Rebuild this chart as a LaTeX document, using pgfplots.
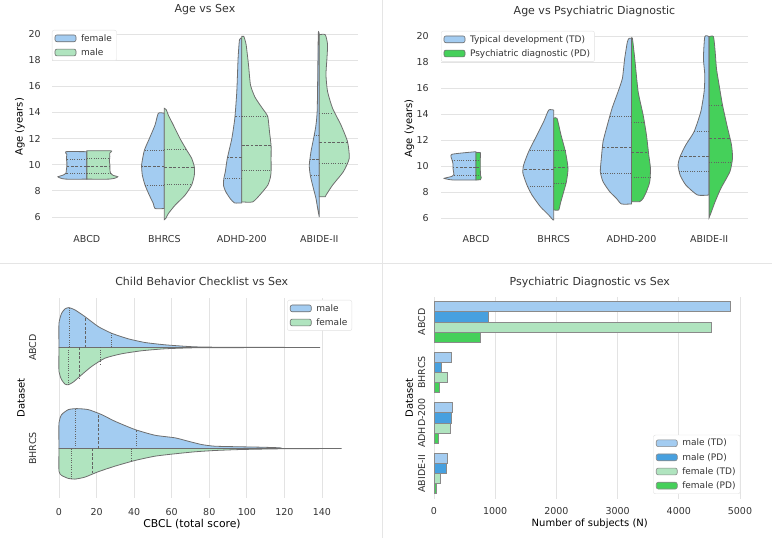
\documentclass[border=0pt]{standalone}
\usepackage{fontspec}
\setmainfont{DejaVu Sans}
\usepackage{pgfplots}
\pgfplotsset{compat=1.18}

\definecolor{tdblue}{HTML}{A3CCF1}
\definecolor{mgreen}{HTML}{B0E4BF}
\definecolor{pdblue}{HTML}{47A0DF}
\definecolor{pdgreen}{HTML}{45D05A}
\definecolor{edge}{HTML}{6E6E6E}
\definecolor{bargray}{HTML}{8A8A8A}
\definecolor{gridc}{HTML}{E3E3E3}
\definecolor{txt}{HTML}{333333}

% half-width scale of the violins (density units per category)
\def\vsc{77.5}
\def\hsc{101.3}

\pgfplotsset{
  base/.style={
    scale only axis, anchor=south west,
    axis line style={draw=none},
    major tick length=0pt,
    tick label style={font=\fontsize{9.5}{11}\selectfont, text=txt},
    label style={font=\fontsize{9.5}{11}\selectfont, text=txt},
    title style={font=\fontsize{11}{13}\selectfont, text=txt},
    grid style={gridc, line width=0.9pt},
    /pgf/number format/assume math mode=true,
    legend style={font=\fontsize{9}{11}\selectfont, text=txt, draw=black!12,
      rounded corners=2pt, fill=white, inner xsep=2.5pt, inner ysep=2pt, row sep=1.8pt},
    legend cell align=left,
    legend image code/.code={\draw[##1, line width=0.6pt] (0pt,-3.4pt) rectangle (21pt,3.4pt); \path[draw=none, fill=none] (0pt,0pt) -- (24pt,0pt);},
  },
  violin/.style={draw=edge, line width=0.8pt, smooth, tension=0.35, forget plot},
  qmed/.style={draw=edge!90!black, line width=0.8pt, dash pattern=on 2.8pt off 1.6pt, forget plot},
  qqrt/.style={draw=edge!90!black, line width=0.8pt, dash pattern=on 1pt off 1.3pt, forget plot},
}

% vertical half violin: centre, side (-1 left, 1 right), colour, rows "age width"
\newcommand{\vhalf}[4]{\addplot[violin, fill=#3] table[row sep=\\, x expr={#1+(#2)*\thisrow{w}/\vsc}, y=a] {a w\\ #4} -- cycle;}
% quartile line of a vertical half violin: centre, side, age, width, style
\newcommand{\vq}[5]{\addplot[#5] table[row sep=\\, x expr={#1+(#2)*\thisrow{w}/\vsc}, y=a] {a w\\ #3 0\\ #3 #4\\};}
% horizontal half violin: centre, side (-1 up, 1 down), colour, rows "value height"
\newcommand{\hhalf}[4]{\addplot[violin, fill=#3] table[row sep=\\, x=v, y expr={#1+(#2)*\thisrow{h}/\hsc}] {v h\\ #4} -- cycle;}
\newcommand{\hq}[5]{\addplot[#5] table[row sep=\\, x=v, y expr={#1+(#2)*\thisrow{h}/\hsc}] {v h\\ #3 0\\ #3 #4\\};}

\begin{document}
\begin{tikzpicture}[x=1pt,y=1pt]
\useasboundingbox (0,0) rectangle (772,538);
\draw[black!10, line width=1pt] (382.5,0) -- (382.5,538);
\draw[black!10, line width=1pt] (0,274) -- (772,274);

%% ---------------- Age vs Sex ----------------
\begin{axis}[base, at={(52pt,310.5pt)}, width=306pt, height=201.3pt,
  xmin=-0.45, xmax=3.5, ymin=5.2, ymax=20.6,
  xtick={0,1,2,3}, xticklabels={ABCD,BHRCS,ADHD-200,ABIDE-II},
  ytick={6,8,...,20}, ymajorgrids,
  xticklabel shift=4.8pt, yticklabel shift=7.8pt,
  title={Age vs Sex}, title style={at={(0.5,1)}, anchor=base, yshift=7.2pt},
  ylabel={Age (years)},
  every axis y label/.style={at={(axis description cs:-0.1046,0.5)}, rotate=90, anchor=center},
  legend style={at={(0,1)}, anchor=north west, yshift=-3.8pt},
]
\addlegendimage{fill=tdblue, draw=edge}\addlegendentry{female}
\addlegendimage{fill=mgreen, draw=edge}\addlegendentry{male}
% ABCD
\vhalf{0}{-1}{tdblue}{11.0 0\\ 11.0 21\\ 10.8 20\\ 10.5 20.5\\ 10.2 20\\ 9.9 20\\ 9.6 20.5\\ 9.35 21\\ 9.2 24\\ 9.08 29\\ 8.97 26\\ 8.9 21\\ 8.9 0\\}
\vhalf{0}{1}{mgreen}{11.07 0\\ 11.07 24\\ 10.9 23\\ 10.6 23\\ 10.3 22.5\\ 10.0 23\\ 9.7 23\\ 9.4 23.5\\ 9.2 26\\ 9.08 31\\ 8.97 28\\ 8.9 22\\ 8.9 0\\}
\vq{0}{-1}{10.43}{20.2}{qqrt}\vq{0}{-1}{9.9}{20}{qmed}\vq{0}{-1}{9.34}{21}{qqrt}
\vq{0}{1}{10.49}{23}{qqrt}\vq{0}{1}{9.9}{23}{qmed}\vq{0}{1}{9.34}{23.5}{qqrt}
% BHRCS
\vhalf{1}{-1}{tdblue}{13.94 0\\ 13.94 6\\ 13.04 9.3\\ 12.0 15\\ 11.1 20\\ 10.0 22.7\\ 9.2 22\\ 8.44 19.3\\ 7.67 15\\ 7.03 11\\ 6.65 9.3\\ 6.65 0\\}
\vhalf{1}{1}{mgreen}{14.32 0\\ 14.2 2\\ 13.8 4\\ 13.04 9\\ 12.0 15.7\\ 11.13 22.3\\ 10.5 27.3\\ 9.85 30\\ 9.2 30\\ 8.44 27.3\\ 7.67 20.7\\ 6.9 10.7\\ 6.26 4\\ 5.88 1.3\\ 5.8 0\\}
\vq{1}{-1}{11.13}{20}{qqrt}\vq{1}{-1}{9.85}{22.7}{qmed}\vq{1}{-1}{8.44}{19.3}{qqrt}
\vq{1}{1}{11.2}{22}{qqrt}\vq{1}{1}{9.8}{30}{qmed}\vq{1}{1}{8.48}{27}{qqrt}
% ADHD-200
\vhalf{2}{-1}{tdblue}{19.7 0\\ 19.57 2.3\\ 18.16 3.7\\ 15.6 5\\ 13.55 7\\ 12.0 10\\ 10.49 14.5\\ 9.46 16.5\\ 8.95 18\\ 8.4 18.3\\ 7.93 16\\ 7.42 11.7\\ 7.08 7.3\\ 7.08 0\\}
\vhalf{2}{1}{mgreen}{19.82 0\\ 19.82 2\\ 19.2 4.3\\ 17.65 6.7\\ 16.1 8.7\\ 15.2 13\\ 14.6 18\\ 14.2 21.7\\ 13.68 26\\ 12.53 27.7\\ 11.46 29.3\\ 10.49 29.3\\ 9.46 29.3\\ 9.0 28.5\\ 8.44 26\\ 7.8 19.3\\ 7.16 11\\ 7.16 0\\}
\vq{2}{-1}{13.7}{7}{qqrt}\vq{2}{-1}{10.54}{14.5}{qmed}\vq{2}{-1}{8.95}{18}{qqrt}
\vq{2}{1}{13.68}{26}{qqrt}\vq{2}{1}{11.46}{29.3}{qmed}\vq{2}{1}{9.54}{29.3}{qqrt}
% ABIDE-II
\vhalf{3}{-1}{tdblue}{19.95 0\\ 19.95 1\\ 14.32 2\\ 13.04 3.3\\ 12.28 5\\ 11.0 8.3\\ 9.97 10\\ 9.2 9\\ 8.44 6.7\\ 7.42 3.3\\ 6.52 1.3\\ 6.0 0\\}
\vhalf{3}{1}{mgreen}{19.95 0\\ 19.95 6\\ 19.2 8.3\\ 18.16 7.7\\ 16.88 6.7\\ 15.6 8.3\\ 14.32 13.3\\ 13.04 21.7\\ 11.76 28.3\\ 10.49 30\\ 9.46 24\\ 8.44 13.3\\ 7.67 6.7\\ 7.55 6\\ 7.55 0\\}
\vq{3}{-1}{12.28}{5}{qqrt}\vq{3}{-1}{10.4}{9}{qmed}\vq{3}{-1}{9.2}{9}{qqrt}
\vq{3}{1}{13.94}{13.3}{qqrt}\vq{3}{1}{11.7}{28.3}{qmed}\vq{3}{1}{10.1}{28.3}{qqrt}
\end{axis}

%% ---------------- Age vs Psychiatric Diagnostic ----------------
\begin{axis}[base, at={(441pt,309.6pt)}, width=307pt, height=200.2pt,
  xmin=-0.45, xmax=3.5, ymin=5.2, ymax=20.6,
  xtick={0,1,2,3}, xticklabels={ABCD,BHRCS,ADHD-200,ABIDE-II},
  ytick={6,8,...,20}, ymajorgrids,
  xticklabel shift=3.9pt, yticklabel shift=8.8pt,
  title={Age vs Psychiatric Diagnostic}, title style={at={(0.5,1)}, anchor=base, yshift=7.5pt},
  ylabel={Age (years)},
  every axis y label/.style={at={(axis description cs:-0.103,0.5)}, rotate=90, anchor=center},
  legend style={at={(0,1)}, anchor=north west, yshift=-2.8pt},
]
\addlegendimage{fill=tdblue, draw=edge}\addlegendentry{Typical development (TD)}
\addlegendimage{fill=pdgreen, draw=edge}\addlegendentry{Psychiatric diagnostic (PD)}
% ABCD
\vhalf{0}{-1}{tdblue}{11.1 0\\ 10.9 24\\ 10.5 24\\ 10.2 23\\ 9.9 23\\ 9.6 22.5\\ 9.35 22\\ 9.2 24\\ 9.05 31.7\\ 8.95 26\\ 8.92 21\\ 8.92 0\\}
\vhalf{0}{1}{pdgreen}{11.03 0\\ 11.03 4.3\\ 10.5 4.3\\ 9.9 4.3\\ 9.3 4.5\\ 9.1 5.3\\ 8.95 4.5\\ 8.92 0\\}
\vq{0}{-1}{10.46}{23.5}{qqrt}\vq{0}{-1}{9.9}{23}{qmed}\vq{0}{-1}{9.3}{22}{qqrt}
\vq{0}{1}{10.46}{4.3}{qqrt}\vq{0}{1}{9.9}{4.3}{qmed}\vq{0}{1}{9.3}{4.5}{qqrt}
% BHRCS
\vhalf{1}{-1}{tdblue}{14.3 0\\ 14.3 5\\ 13.41 10\\ 12.38 16.7\\ 11.1 25\\ 10.08 30\\ 9.44 30.7\\ 8.54 26.7\\ 7.77 21.7\\ 6.87 13.3\\ 6.23 5\\ 5.85 0.7\\ 5.85 0\\}
\vhalf{1}{1}{pdgreen}{13.67 0\\ 13.67 3.3\\ 12.38 7.3\\ 11.1 11.7\\ 9.82 14.3\\ 8.8 12.7\\ 8.03 10\\ 7.13 6.7\\ 6.62 5\\ 6.62 0\\}
\vq{1}{-1}{11.18}{25}{qqrt}\vq{1}{-1}{9.77}{30.5}{qmed}\vq{1}{-1}{8.41}{26.5}{qqrt}
\vq{1}{1}{11.17}{11.7}{qqrt}\vq{1}{1}{9.89}{14.3}{qmed}\vq{1}{1}{8.69}{12.5}{qqrt}
% ADHD-200
\vhalf{2}{-1}{tdblue}{19.82 0\\ 19.82 2.3\\ 19.56 4\\ 18.28 6.7\\ 16.74 9\\ 15.72 13.3\\ 14.44 19.3\\ 13.15 24\\ 11.87 28.3\\ 10.59 30\\ 9.56 31\\ 8.79 28.3\\ 8.03 21.7\\ 7.51 15\\ 7.08 10\\ 7.08 0\\}
\vhalf{2}{1}{pdgreen}{19.82 0\\ 19.82 1\\ 18.28 3.3\\ 15.72 6.7\\ 13.92 11.7\\ 12.38 15\\ 10.85 17.3\\ 9.82 19\\ 8.79 18.3\\ 8.03 15\\ 7.51 11.7\\ 7.26 8.3\\ 7.26 0\\}
\vq{2}{-1}{13.85}{21.5}{qqrt}\vq{2}{-1}{11.41}{29}{qmed}\vq{2}{-1}{9.44}{31}{qqrt}
\vq{2}{1}{13.33}{13}{qqrt}\vq{2}{1}{11.05}{17}{qmed}\vq{2}{1}{9.13}{18.7}{qqrt}
% ABIDE-II
\vhalf{3}{-1}{tdblue}{19.95 0\\ 19.95 4.3\\ 18.28 5.7\\ 17.0 4.3\\ 15.72 5\\ 14.18 8.3\\ 12.64 15\\ 11.62 23.3\\ 10.72 29\\ 10.08 31\\ 9.31 29\\ 8.54 23.3\\ 7.77 11.7\\ 7.77 0\\}
\vhalf{3}{1}{pdgreen}{19.95 0\\ 19.95 4.3\\ 18.8 6\\ 17.5 7.3\\ 16.2 10\\ 14.7 13.3\\ 13.15 17.7\\ 11.62 22.3\\ 10.59 23.3\\ 9.56 20.7\\ 8.28 11.7\\ 7.26 6\\ 6.49 2.3\\ 6.03 0\\}
\vq{3}{-1}{12.64}{15}{qqrt}\vq{3}{-1}{10.77}{29}{qmed}\vq{3}{-1}{9.56}{30}{qqrt}
\vq{3}{1}{14.67}{12.7}{qqrt}\vq{3}{1}{12.13}{21.7}{qmed}\vq{3}{1}{10.28}{22.7}{qqrt}
\end{axis}

%% ---------------- Child Behavior Checklist vs Sex ----------------
\begin{axis}[base, at={(44.7pt,40pt)}, width=314.1pt, height=200pt,
  xmin=-7.6, xmax=159.6, ymin=-0.49, ymax=1.49, y dir=reverse,
  xtick={0,20,...,140}, xmajorgrids,
  ytick={0,1}, yticklabels={ABCD,BHRCS},
  yticklabel style={rotate=90, anchor=south},
  xticklabel shift=7pt, yticklabel shift=5pt,
  title={Child Behavior Checklist vs Sex}, title style={at={(0.5,1)}, anchor=base, yshift=6.3pt},
  xlabel={CBCL (total score)}, ylabel={Dataset},
  every axis x label/.style={at={(axis description cs:0.469,-0.13)}, anchor=center, font=\fontsize{10.8}{12}\selectfont},
  every axis y label/.style={at={(axis description cs:-0.0755,0.5)}, rotate=90, anchor=center},
  legend style={at={(1,1)}, anchor=north east, xshift=-6.8pt, yshift=-2pt},
]
\addlegendimage{fill=tdblue, draw=edge}\addlegendentry{male}
\addlegendimage{fill=mgreen, draw=edge}\addlegendentry{female}
% ABCD
\hhalf{0}{-1}{tdblue}{0 0\\ 0 24.3\\ 1.4 34.3\\ 3.2 38.7\\ 5.3 40\\ 8.5 37.7\\ 13.8 31\\ 20.9 21\\ 28 14.3\\ 36.9 8.7\\ 45.8 5\\ 56.4 2.7\\ 68.8 1\\ 77.7 0.4\\ 100 0.2\\ 139 0\\}
\hhalf{0}{1}{mgreen}{0 0\\ 0 24\\ 1.4 32.3\\ 3.2 36.7\\ 5 37.3\\ 7.6 34.7\\ 12.1 27.3\\ 17.4 19\\ 24.5 10.7\\ 33.4 6.3\\ 44 3.3\\ 56.4 1.3\\ 72.4 0.3\\ 100 0.1\\ 130 0\\}
\hq{0}{-1}{5.8}{40}{qqrt}\hq{0}{-1}{14.2}{30.5}{qmed}\hq{0}{-1}{28}{14.3}{qqrt}
\hq{0}{1}{5.0}{37.3}{qqrt}\hq{0}{1}{10.8}{31}{qmed}\hq{0}{1}{21.8}{18}{qqrt}
% BHRCS
\hhalf{1}{-1}{tdblue}{0 0\\ 0 25.7\\ 1.4 34\\ 5 39\\ 9.4 40\\ 15.6 39\\ 22.7 34\\ 29.8 27.3\\ 40.5 19\\ 51.1 13.3\\ 61.8 10.7\\ 68.8 7.3\\ 75.9 4\\ 83 2.3\\ 97.2 1.7\\ 107.9 1.3\\ 117.6 0.7\\ 118.5 0\\}
\hhalf{1}{1}{mgreen}{0 0\\ 0 22.7\\ 1.4 27\\ 5 30\\ 8.5 30.7\\ 13.8 28.7\\ 20.9 23.3\\ 29.8 17.7\\ 40.5 12\\ 51.1 7.7\\ 61.8 5.3\\ 72.4 3.3\\ 83 2\\ 97.2 1\\ 118.5 0.3\\ 150.5 0\\}
\hq{1}{-1}{8.9}{40}{qqrt}\hq{1}{-1}{20.9}{35}{qmed}\hq{1}{-1}{41}{18.5}{qqrt}
\hq{1}{1}{6.7}{30.5}{qqrt}\hq{1}{1}{17.9}{25}{qmed}\hq{1}{1}{38.3}{13}{qqrt}
\end{axis}

%% ---------------- Psychiatric Diagnostic vs Sex ----------------
\begin{axis}[base, at={(434pt,39.25pt)}, width=311.5pt, height=202pt,
  xmin=0, xmax=5090, ymin=-0.5, ymax=3.5, y dir=reverse,
  xtick={0,1000,...,5000}, xmajorgrids, scaled x ticks=false,
  /pgf/number format/set thousands separator={},
  ytick={0,1,2,3}, yticklabels={ABCD,BHRCS,ADHD-200,ABIDE-II},
  yticklabel style={rotate=90, anchor=south},
  xticklabel shift=5.5pt, yticklabel shift=5.3pt,
  title={Psychiatric Diagnostic vs Sex}, title style={at={(0.5,1)}, anchor=base, yshift=5.75pt},
  xlabel={Number of subjects (N)}, ylabel={Dataset},
  every axis x label/.style={at={(axis description cs:0.5,-0.122)}, anchor=center},
  every axis y label/.style={at={(axis description cs:-0.079,0.5)}, rotate=90, anchor=center},
  legend style={at={(1,0)}, anchor=south east, xshift=-5.2pt, yshift=4.75pt},
]
\addlegendimage{fill=tdblue, draw=bargray}\addlegendentry{male (TD)}
\addlegendimage{fill=pdblue, draw=bargray}\addlegendentry{male (PD)}
\addlegendimage{fill=mgreen, draw=bargray}\addlegendentry{female (TD)}
\addlegendimage{fill=pdgreen, draw=bargray}\addlegendentry{female (PD)}
\addplot[xbar, bar width=0.2, bar shift=-0.3, fill=tdblue, draw=bargray, line width=0.9pt, forget plot]
  coordinates {(4847,0) (283,1) (300,2) (212,3)};
\addplot[xbar, bar width=0.2, bar shift=-0.1, fill=pdblue, draw=bargray, line width=0.9pt, forget plot]
  coordinates {(888,0) (120,1) (278,2) (207,3)};
\addplot[xbar, bar width=0.2, bar shift=0.1, fill=mgreen, draw=bargray, line width=0.9pt, forget plot]
  coordinates {(4532,0) (212,1) (261,2) (103,3)};
\addplot[xbar, bar width=0.2, bar shift=0.3, fill=pdgreen, draw=bargray, line width=0.9pt, forget plot]
  coordinates {(757,0) (82,1) (71,2) (33,3)};
\end{axis}
\end{tikzpicture}
\end{document}
